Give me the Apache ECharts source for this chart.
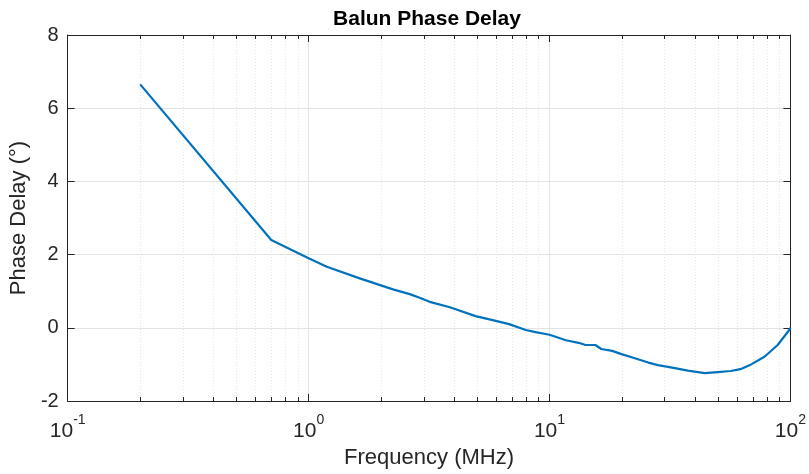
<!DOCTYPE html>
<html>
<head>
<meta charset="utf-8">
<script src="https://cdn.jsdelivr.net/npm/echarts@6/dist/echarts.min.js"></script>
<style>html,body{margin:0;padding:0;background:#fff}#c{width:809px;height:474px}</style>
</head>
<body>
<div id="c"></div>
<script>
const freqMHz = [0.2, 0.7, 1.0, 1.19, 1.63, 2.24, 2.63, 2.89, 3.18, 3.86, 4.93, 5.81, 6.8, 7.97, 8.75, 10, 11.7, 13.2, 14.1, 15.5, 16.4, 18.2, 19.9, 22.6, 25.7, 28.2, 32.3, 37.5, 44.1, 49.9, 56.5, 62.0, 68.7, 78.0, 88.5, 98.9, 100];
const phaseDeg = [6.65, 2.40, 1.90, 1.67, 1.35, 1.05, 0.92, 0.82, 0.71, 0.56, 0.32, 0.21, 0.10, -0.06, -0.12, -0.19, -0.34, -0.41, -0.47, -0.47, -0.58, -0.63, -0.72, -0.83, -0.95, -1.02, -1.09, -1.17, -1.24, -1.21, -1.18, -1.13, -1.00, -0.79, -0.47, -0.06, 0.0];
const minorTicks = [0.2,0.3,0.4,0.5,0.6,0.7,0.8,0.9,2,3,4,5,6,7,8,9,20,30,40,50,60,70,80,90];
const yTicks = [-2, 0, 2, 4, 6, 8];
const titleText = 'Balun Phase Delay';
const xName = 'Frequency (MHz)';
const yName = 'Phase Delay (°)';

const axisColor = '#262626';
const font = 'Liberation Sans, Arial, sans-serif';
const chart = echarts.init(document.getElementById('c'), null, {renderer: 'canvas'});

function expLabel(v) {
  const e = Math.round(Math.log10(v));
  return '{b|10}{s|' + e + '}';
}
const xLog = {
  type: 'log', logBase: 10, min: 0.1, max: 100
};
chart.setOption({
  animation: false,
  backgroundColor: '#fff',
  title: {
    text: titleText, left: 422, top: 4, textAlign: 'center',
    textStyle: {fontFamily: font, fontSize: 21, fontWeight: 'bold', color: '#000'}
  },
  grid: {left: 66, right: 16, top: 35, bottom: 73, containLabel: false},
  xAxis: [
    Object.assign({}, xLog, {
      position: 'bottom',
      name: xName, nameLocation: 'middle', nameGap: 44,
      nameTextStyle: {fontFamily: font, fontSize: 22, color: axisColor},
      axisLine: {show: true, onZero: false, lineStyle: {color: axisColor, width: 1}},
      axisTick: {show: true, inside: true, length: 7, lineStyle: {color: axisColor}},
      axisLabel: {
        show: true, margin: 12, formatter: expLabel,
        rich: {
          b: {fontFamily: font, fontSize: 21, color: axisColor, verticalAlign: 'bottom', padding: [8, 0, 0, 0]},
          s: {fontFamily: font, fontSize: 14, color: axisColor, verticalAlign: 'top'}
        }
      },
      splitLine: {show: true, lineStyle: {color: '#e3e3e3', width: 1}}
    }),
    Object.assign({}, xLog, {
      position: 'top',
      axisLine: {show: true, onZero: false, lineStyle: {color: axisColor, width: 1}},
      axisTick: {show: true, inside: true, length: 7, lineStyle: {color: axisColor}},
      axisLabel: {show: false},
      splitLine: {show: false}
    })
  ],
  yAxis: [
    {
      type: 'value', min: yTicks[0], max: yTicks[yTicks.length - 1], interval: 2,
      position: 'left',
      name: yName, nameLocation: 'middle', nameGap: 33,
      nameTextStyle: {fontFamily: font, fontSize: 22, color: axisColor},
      axisLine: {show: true, onZero: false, lineStyle: {color: axisColor, width: 1}},
      axisTick: {show: true, inside: true, length: 7, lineStyle: {color: axisColor}},
      axisLabel: {show: true, margin: 9, fontFamily: font, fontSize: 20, color: axisColor},
      splitLine: {show: true, lineStyle: {color: '#e3e3e3', width: 1}}
    },
    {
      type: 'value', min: yTicks[0], max: yTicks[yTicks.length - 1], interval: 2,
      position: 'right',
      axisLine: {show: true, onZero: false, lineStyle: {color: axisColor, width: 1}},
      axisTick: {show: true, inside: true, length: 7, lineStyle: {color: axisColor}},
      axisLabel: {show: false},
      splitLine: {show: false}
    }
  ],
  series: [
    {
      type: 'custom', xAxisIndex: 0, yAxisIndex: 0, silent: true, z: 1,
      data: minorTicks.map(v => [v, 0]),
      encode: {x: 0, y: 1},
      renderItem: function (params, api) {
        const x = Math.round(api.coord([api.value(0), 0])[0]) + 0.5;
        const cs = params.coordSys;
        const top = cs.y, bot = cs.y + cs.height;
        return {
          type: 'group',
          children: [
            {type: 'line', shape: {x1: x, y1: top, x2: x, y2: bot},
             style: {stroke: '#e6e6e6', lineWidth: 1, lineDash: [1, 2]}},
            {type: 'line', shape: {x1: x, y1: bot, x2: x, y2: bot - 4},
             style: {stroke: axisColor, lineWidth: 1}},
            {type: 'line', shape: {x1: x, y1: top, x2: x, y2: top + 4},
             style: {stroke: axisColor, lineWidth: 1}}
          ]
        };
      }
    },
    {
      type: 'line', xAxisIndex: 0, yAxisIndex: 0, z: 5,
      data: freqMHz.map((f, i) => [f, phaseDeg[i]]),
      showSymbol: false, symbol: 'none', smooth: false,
      lineStyle: {color: '#0072BD', width: 2.2},
      clip: true
    }
  ]
});
</script>
</body>
</html>
